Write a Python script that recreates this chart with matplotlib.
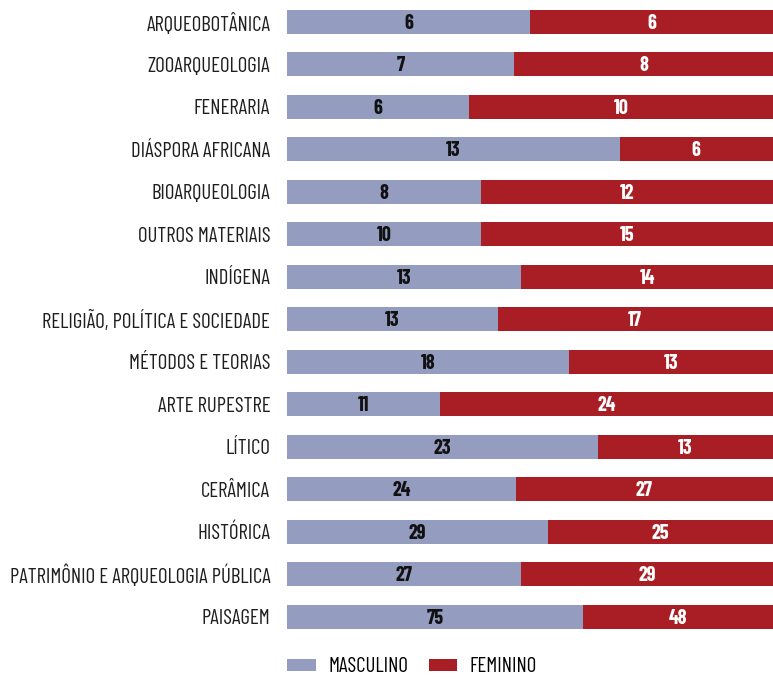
import matplotlib
matplotlib.use('Agg')
import matplotlib.pyplot as plt
import numpy as np
from matplotlib.patches import Patch

# categorias e contagens por gênero
lstCategorias = [
	'ARQUEOBOTÂNICA', 'ZOOARQUEOLOGIA', 'FENERARIA', 'DIÁSPORA AFRICANA',
	'BIOARQUEOLOGIA', 'OUTROS MATERIAIS', 'INDÍGENA',
	'RELIGIÃO, POLÍTICA E SOCIEDADE', 'MÉTODOS E TEORIAS', 'ARTE RUPESTRE',
	'LÍTICO', 'CERÂMICA', 'HISTÓRICA', 'PATRIMÔNIO E ARQUEOLOGIA PÚBLICA',
	'PAISAGEM',
]
lstMasculino = [6, 7, 6, 13, 8, 10, 13, 13, 18, 11, 23, 24, 29, 27, 75]
lstFeminino = [6, 8, 10, 6, 12, 15, 14, 17, 13, 24, 13, 27, 25, 29, 48]

sCorMasc = '#949cbf'
sCorFem = '#a91e24'

# fonte condensada
plt.rcParams['font.family'] = ['Barlow Condensed', 'Roboto Condensed', 'DejaVu Sans']
fTam = 15

arrM = np.array(lstMasculino, dtype=float)
arrF = np.array(lstFeminino, dtype=float)
arrTot = arrM + arrF
arrPm = arrM / arrTot
arrPf = arrF / arrTot

fig = plt.figure(figsize=(7.73, 6.79), dpi=100)
ax = fig.add_axes([0.3713, 0.0604, 0.6287, 0.939])

y = np.arange(len(lstCategorias))
fAltura = 0.56
ax.barh(y, arrPm, height=fAltura, color=sCorMasc)
ax.barh(y, arrPf, height=fAltura, left=arrPm, color=sCorFem)

# rótulos de valor centrados em cada segmento
fDesloc = 0.04
for i in range(len(y)):
	ax.text(arrPm[i] / 2, y[i] + fDesloc, f'{lstMasculino[i]}', ha='center', va='center',
		fontsize=14.5, fontweight='bold', color='#111111')
	ax.text(arrPm[i] + arrPf[i] / 2, y[i] + fDesloc, f'{lstFeminino[i]}', ha='center', va='center',
		fontsize=14.5, fontweight='bold', color='white')

ax.set_xlim(0, 1)
ax.set_ylim(len(y) - 0.5, -0.5)
ax.set_yticks(y)
ax.set_yticklabels(lstCategorias, fontsize=fTam, color='#1e1e1e')
ax.tick_params(axis='y', length=0, pad=12)
ax.set_xticks([])
for sLado in ax.spines.values():
	sLado.set_visible(False)

lstLegenda = [Patch(facecolor=sCorMasc, label='MASCULINO'),
	Patch(facecolor=sCorFem, label='FEMININO')]
fig.legend(handles=lstLegenda, loc='center', bbox_to_anchor=(0.533, 0.018),
	ncol=2, frameon=False, fontsize=fTam, handlelength=1.35, handleheight=0.5,
	columnspacing=1.0, handletextpad=0.6, borderpad=0.2)

plt.savefig('out.png', dpi=100)
